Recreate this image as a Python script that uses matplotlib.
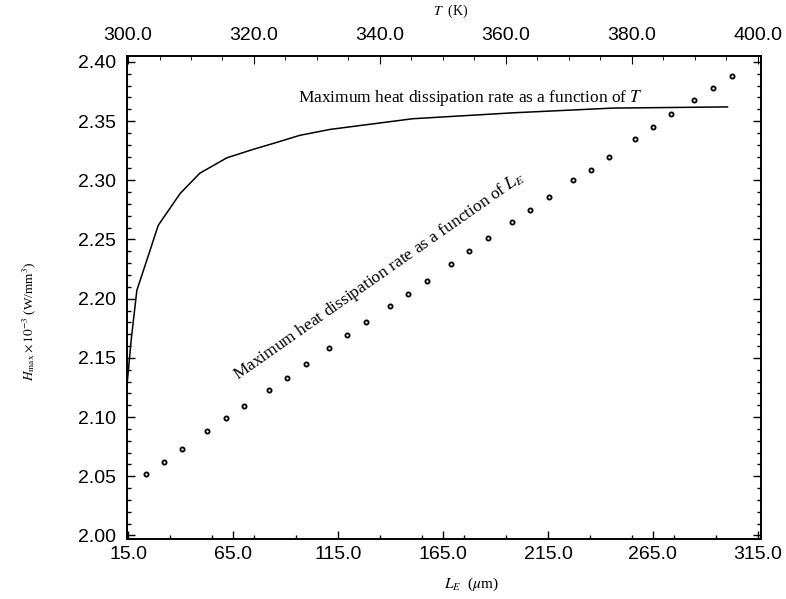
import numpy as np
import matplotlib
matplotlib.use("Agg")
import matplotlib.pyplot as plt
from matplotlib.ticker import MultipleLocator, FixedLocator, FormatStrFormatter

# ----------------------------
# Data
# ----------------------------
# Hmax vs temperature T (K)  -> solid line, top axis
T_vals = [299.8, 300.5, 301.4, 303.2, 304.8, 308.3, 311.4, 315.7, 319.8,
          323.6, 327.3, 332.1, 345.2, 361.1, 377.0, 395.2]
H_T = [2.125, 2.165, 2.207, 2.236, 2.262, 2.289, 2.306, 2.319, 2.326,
       2.332, 2.338, 2.343, 2.352, 2.357, 2.361, 2.362]

# Hmax vs L_E (um) -> dots, bottom axis
L_vals = [23.6, 32.1, 40.7, 52.6, 61.7, 70.2, 82.1, 90.7, 99.8, 110.7,
          119.3, 128.3, 139.8, 148.3, 157.4, 168.8, 177.4, 186.4, 197.9,
          206.4, 215.5, 226.9, 235.5, 244.0, 256.4, 265.0, 273.6, 284.5,
          293.6, 302.6]
H_L = [2.052, 2.062, 2.073, 2.088, 2.099, 2.109, 2.123, 2.133, 2.145, 2.158,
       2.169, 2.180, 2.194, 2.204, 2.215, 2.229, 2.240, 2.251, 2.265,
       2.275, 2.286, 2.300, 2.309, 2.320, 2.335, 2.345, 2.356, 2.368,
       2.378, 2.388]

L_major = np.arange(15, 316, 50)
T_major = np.arange(300, 401, 20)

serif = "Liberation Serif"
sans = "Liberation Sans"
plt.rcParams["mathtext.fontset"] = "stix"

fig = plt.figure(figsize=(7.86, 5.99), dpi=100)
ax = fig.add_axes([0.1616, 0.1002, 0.8064, 0.8063])

# ----------------------------
# L_E curve (bottom axis)
# ----------------------------
ax.plot(L_vals, H_L, linestyle="none", marker="o", markersize=3.0,
        markerfacecolor="white", markeredgecolor="black", markeredgewidth=1.3)
ax.set_xlim(14.5, 316.4)
ax.set_ylim(1.997, 2.405)
ax.xaxis.set_major_locator(FixedLocator(L_major))
ax.xaxis.set_minor_locator(FixedLocator(np.arange(35, 316, 20)))
ax.xaxis.set_major_formatter(FormatStrFormatter("%.1f"))
ax.yaxis.set_major_locator(MultipleLocator(0.05))
ax.yaxis.set_minor_locator(MultipleLocator(0.01))
ax.yaxis.set_major_formatter(FormatStrFormatter("%.2f"))
ax.tick_params(which="both", direction="in", left=True, right=True,
               bottom=True, top=False, labelsize=14, width=1)
ax.tick_params(which="major", length=6)
ax.tick_params(which="minor", length=3)
ax.tick_params(axis="x", pad=5)
ax.tick_params(axis="y", pad=8)
for lab in ax.get_xticklabels() + ax.get_yticklabels():
    lab.set_fontfamily(sans)

ax.set_xlabel(r"$L_E$  ($\mu$m)", fontsize=11, fontfamily=serif)
ax.xaxis.set_label_coords(0.544, -0.075)
ax.set_ylabel(r"$H_{\rm max}\times10^{-3}$ (W/mm$^3$)", fontsize=9.5,
              fontfamily=serif)
ax.yaxis.set_label_coords(-0.14, 0.45)

# ----------------------------
# T curve (top axis)
# ----------------------------
axT = ax.twiny()
axT.plot(T_vals, H_T, color="black", lw=1.1)
axT.set_xlim(299.84, 400.5)
axT.xaxis.set_major_locator(FixedLocator(T_major))
axT.xaxis.set_minor_locator(MultipleLocator(5))
axT.xaxis.set_major_formatter(FormatStrFormatter("%.1f"))
axT.tick_params(which="both", direction="in", labelsize=14, pad=9)
axT.tick_params(which="major", length=6)
axT.tick_params(which="minor", length=3)
for lab in axT.get_xticklabels():
    lab.set_fontfamily(sans)
axT.set_xlabel(r"$T$  (K)", fontsize=10, fontfamily=serif)
axT.xaxis.set_label_coords(0.511, 1.085)

for a in (ax, axT):
    for s in a.spines.values():
        s.set_linewidth(1.2)

# annotations
ax.text(0.27, 0.905, r"Maximum heat dissipation rate as a function of $T$",
        transform=ax.transAxes, fontsize=12.5, fontfamily=serif)
ax.text(0.175, 0.33, r"Maximum heat dissipation rate as a function of $L_E$",
        transform=ax.transAxes, fontsize=12.5, fontfamily=serif,
        rotation=35, rotation_mode="anchor")

fig.savefig("out.png", dpi=100)
